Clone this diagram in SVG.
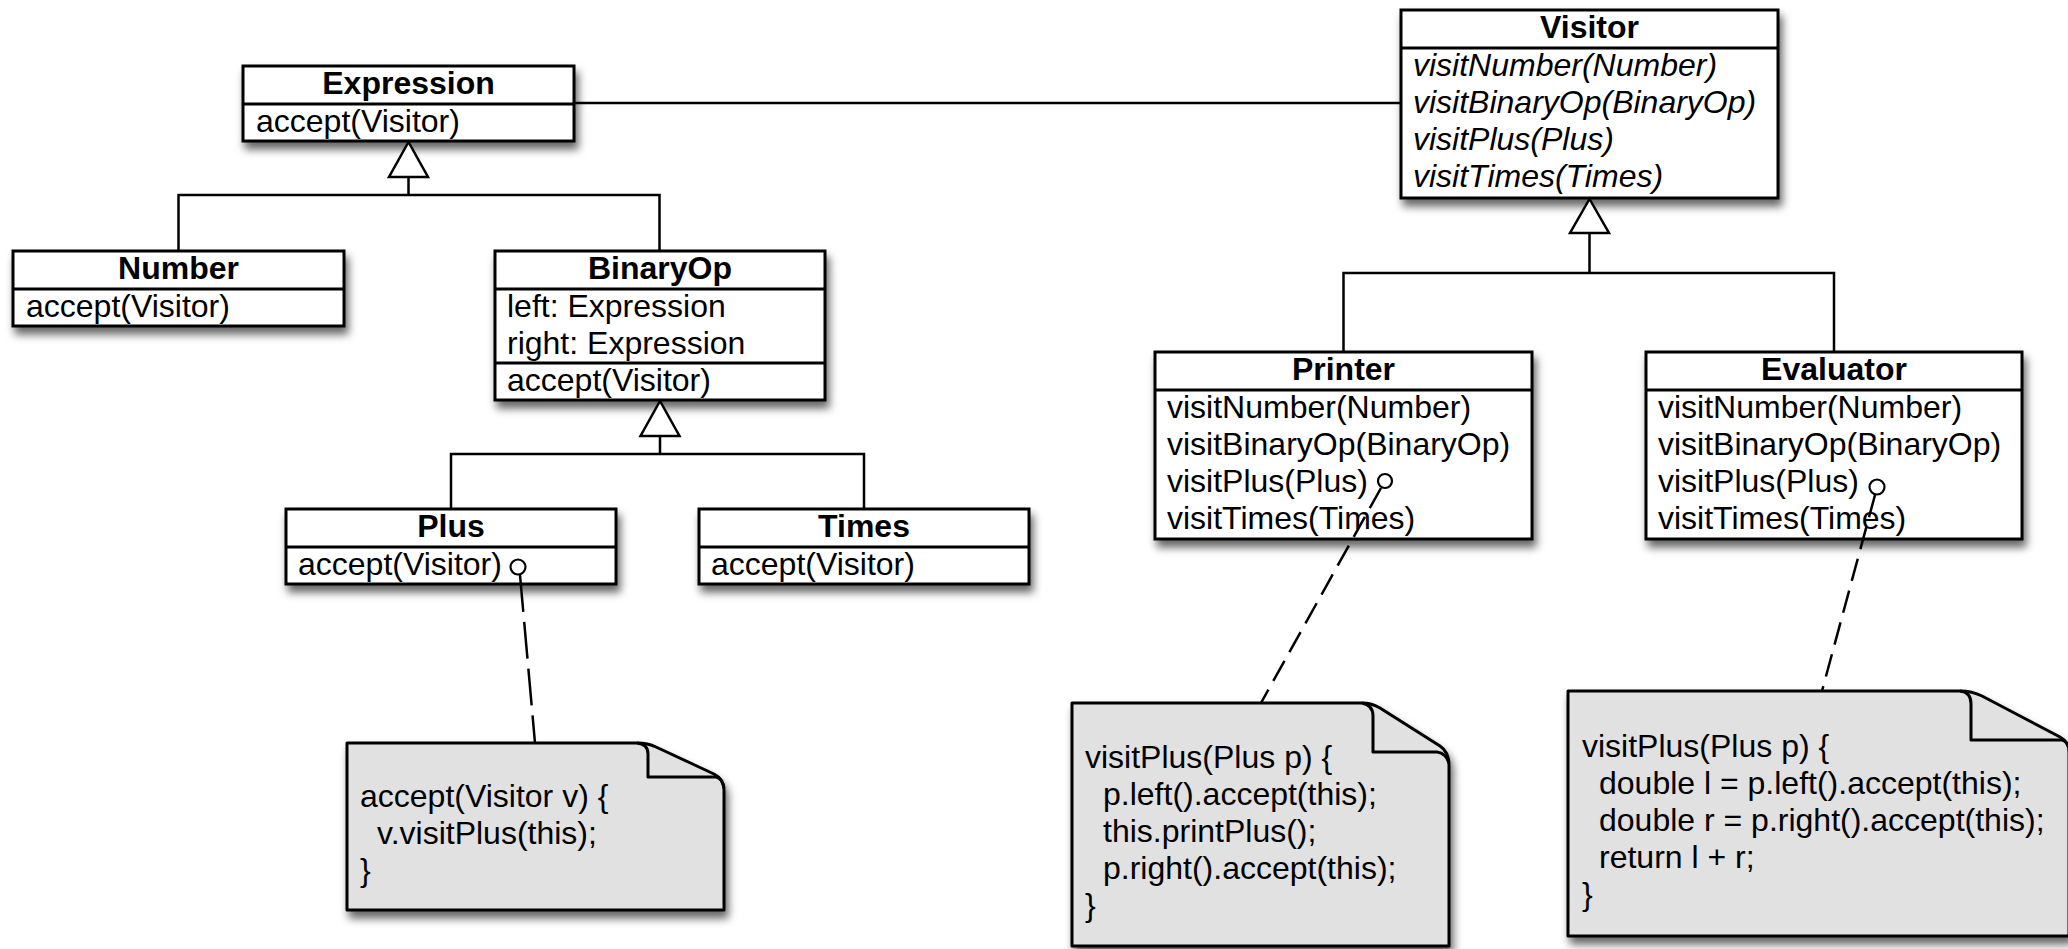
<svg xmlns="http://www.w3.org/2000/svg" width="2068" height="949" viewBox="0 0 2068 949">
<defs>
<filter id="sh" x="-10%" y="-10%" width="125%" height="135%">
<feDropShadow dx="3" dy="7" stdDeviation="4.5" flood-color="#000" flood-opacity="0.6"/>
</filter>
</defs>
<style>
.box{fill:#fff;stroke:#000;stroke-width:3}
.div{stroke:#000;stroke-width:3}
.note{fill:#e1e1e1;stroke:#000;stroke-width:3;stroke-linejoin:round}
.fold{fill:none;stroke:#000;stroke-width:3;stroke-linejoin:round}
text{font-family:"Liberation Sans",Arial,Helvetica,sans-serif;font-size:32px;fill:#000}
.t{font-weight:bold;text-anchor:middle}
.i{font-style:italic}
.ln{fill:none;stroke:#000;stroke-width:2.5}
.tri{fill:#fff;stroke:#000;stroke-width:2.5;stroke-linejoin:miter}
.d1{fill:none;stroke:#000;stroke-width:2.5;stroke-dasharray:37 10}
.d2{fill:none;stroke:#000;stroke-width:2.5;stroke-dasharray:23 10}
.c{fill:#fff;stroke:#000;stroke-width:2.2}
</style>
<rect width="2068" height="949" fill="#fff"/>

<g id="Expression">
<rect class="box" x="243" y="66" width="331" height="75" filter="url(#sh)"/>
<line class="div" x1="243" y1="104" x2="574" y2="104"/>
<text class="t" x="408.5" y="94">Expression</text>
<text x="256" y="132">accept(Visitor)</text>
</g>

<g id="Number">
<rect class="box" x="13" y="251" width="331" height="75" filter="url(#sh)"/>
<line class="div" x1="13" y1="289" x2="344" y2="289"/>
<text class="t" x="178.5" y="279">Number</text>
<text x="26" y="317">accept(Visitor)</text>
</g>

<g id="BinaryOp">
<rect class="box" x="495" y="251" width="330" height="149" filter="url(#sh)"/>
<line class="div" x1="495" y1="289" x2="825" y2="289"/>
<line class="div" x1="495" y1="363" x2="825" y2="363"/>
<text class="t" x="660" y="279">BinaryOp</text>
<text x="507" y="317">left: Expression</text>
<text x="507" y="354">right: Expression</text>
<text x="507" y="391">accept(Visitor)</text>
</g>

<g id="Plus">
<rect class="box" x="286" y="509" width="330" height="75" filter="url(#sh)"/>
<line class="div" x1="286" y1="547" x2="616" y2="547"/>
<text class="t" x="451" y="537">Plus</text>
<text x="298" y="575">accept(Visitor)</text>
<circle class="c" cx="518" cy="567" r="7.5"/>
</g>

<g id="Times">
<rect class="box" x="699" y="509" width="330" height="75" filter="url(#sh)"/>
<line class="div" x1="699" y1="547" x2="1029" y2="547"/>
<text class="t" x="864" y="537">Times</text>
<text x="711" y="575">accept(Visitor)</text>
</g>

<g id="Visitor">
<rect class="box" x="1401" y="10" width="377" height="188" filter="url(#sh)"/>
<line class="div" x1="1401" y1="48" x2="1778" y2="48"/>
<text class="t" x="1589.5" y="38">Visitor</text>
<text class="i" x="1413" y="76">visitNumber(Number)</text>
<text class="i" x="1413" y="113">visitBinaryOp(BinaryOp)</text>
<text class="i" x="1413" y="150">visitPlus(Plus)</text>
<text class="i" x="1413" y="187">visitTimes(Times)</text>
</g>

<g id="Printer">
<rect class="box" x="1155" y="352" width="377" height="187" filter="url(#sh)"/>
<line class="div" x1="1155" y1="390" x2="1532" y2="390"/>
<text class="t" x="1343.5" y="380">Printer</text>
<text x="1167" y="418">visitNumber(Number)</text>
<text x="1167" y="455">visitBinaryOp(BinaryOp)</text>
<text x="1167" y="492">visitPlus(Plus)</text>
<text x="1167" y="529">visitTimes(Times)</text>
<circle class="c" cx="1385" cy="481" r="7"/>
</g>

<g id="Evaluator">
<rect class="box" x="1646" y="352" width="376" height="187" filter="url(#sh)"/>
<line class="div" x1="1646" y1="390" x2="2022" y2="390"/>
<text class="t" x="1834" y="380">Evaluator</text>
<text x="1658" y="418">visitNumber(Number)</text>
<text x="1658" y="455">visitBinaryOp(BinaryOp)</text>
<text x="1658" y="492">visitPlus(Plus)</text>
<text x="1658" y="529">visitTimes(Times)</text>
<circle class="c" cx="1877" cy="487" r="7.5"/>
</g>

<g id="note-plus">
<path class="note" filter="url(#sh)" d="M347,743 H637 Q648,743 656,747 L714,774 Q724,779 724,790 V910 H347 Z"/>
<path class="fold" d="M637,743 Q648,744 648,754 V777 H716 Q722,778 724,788"/>
<text x="360" y="807">accept(Visitor v) {</text>
<text x="377" y="844">v.visitPlus(this);</text>
<text x="360" y="881">}</text>
</g>

<g id="note-printer">
<path class="note" filter="url(#sh)" d="M1072,703 H1362 Q1372,703 1380,708 L1440,746 Q1449,752 1449,765 V946 H1072 Z"/>
<path class="fold" d="M1362,703 Q1373,705 1373,716 V752 H1437 Q1446,753 1449,763"/>
<text x="1085" y="768">visitPlus(Plus p) {</text>
<text x="1103" y="805">p.left().accept(this);</text>
<text x="1103" y="842">this.printPlus();</text>
<text x="1103" y="879">p.right().accept(this);</text>
<text x="1085" y="916">}</text>
</g>

<g id="note-evaluator">
<path class="note" filter="url(#sh)" d="M1568,691 H1960 Q1972,691 1982,696 L2060,737 Q2069,742 2069,752 V936 H1568 Z"/>
<path class="fold" d="M1960,691 Q1971,692 1971,704 V740 H2062 Q2067,741 2069,748"/>
<text x="1582" y="757">visitPlus(Plus p) {</text>
<text x="1599" y="794">double l = p.left().accept(this);</text>
<text x="1599" y="831">double r = p.right().accept(this);</text>
<text x="1599" y="868">return l + r;</text>
<text x="1582" y="905">}</text>
</g>

<g id="connectors">
<line class="ln" x1="574" y1="103" x2="1401" y2="103"/>
<path class="ln" d="M408.5,177 V195 M178.5,251 V195 H659.5 V251"/>
<polygon class="tri" points="408.5,142 389,177 428,177"/>
<path class="ln" d="M660,436 V454 M451,509 V454 H864 V509"/>
<polygon class="tri" points="660,401 640.5,436 679.5,436"/>
<path class="ln" d="M1589.5,233 V273 M1343.5,352 V273 H1834 V352"/>
<polygon class="tri" points="1589.5,199 1570,233 1609,233"/>
<line class="d1" x1="520" y1="575" x2="535" y2="743"/>
<line class="d2" x1="1381" y1="488" x2="1261" y2="703"/>
<line class="d2" x1="1875" y1="495" x2="1822" y2="691"/>
</g>
</svg>
